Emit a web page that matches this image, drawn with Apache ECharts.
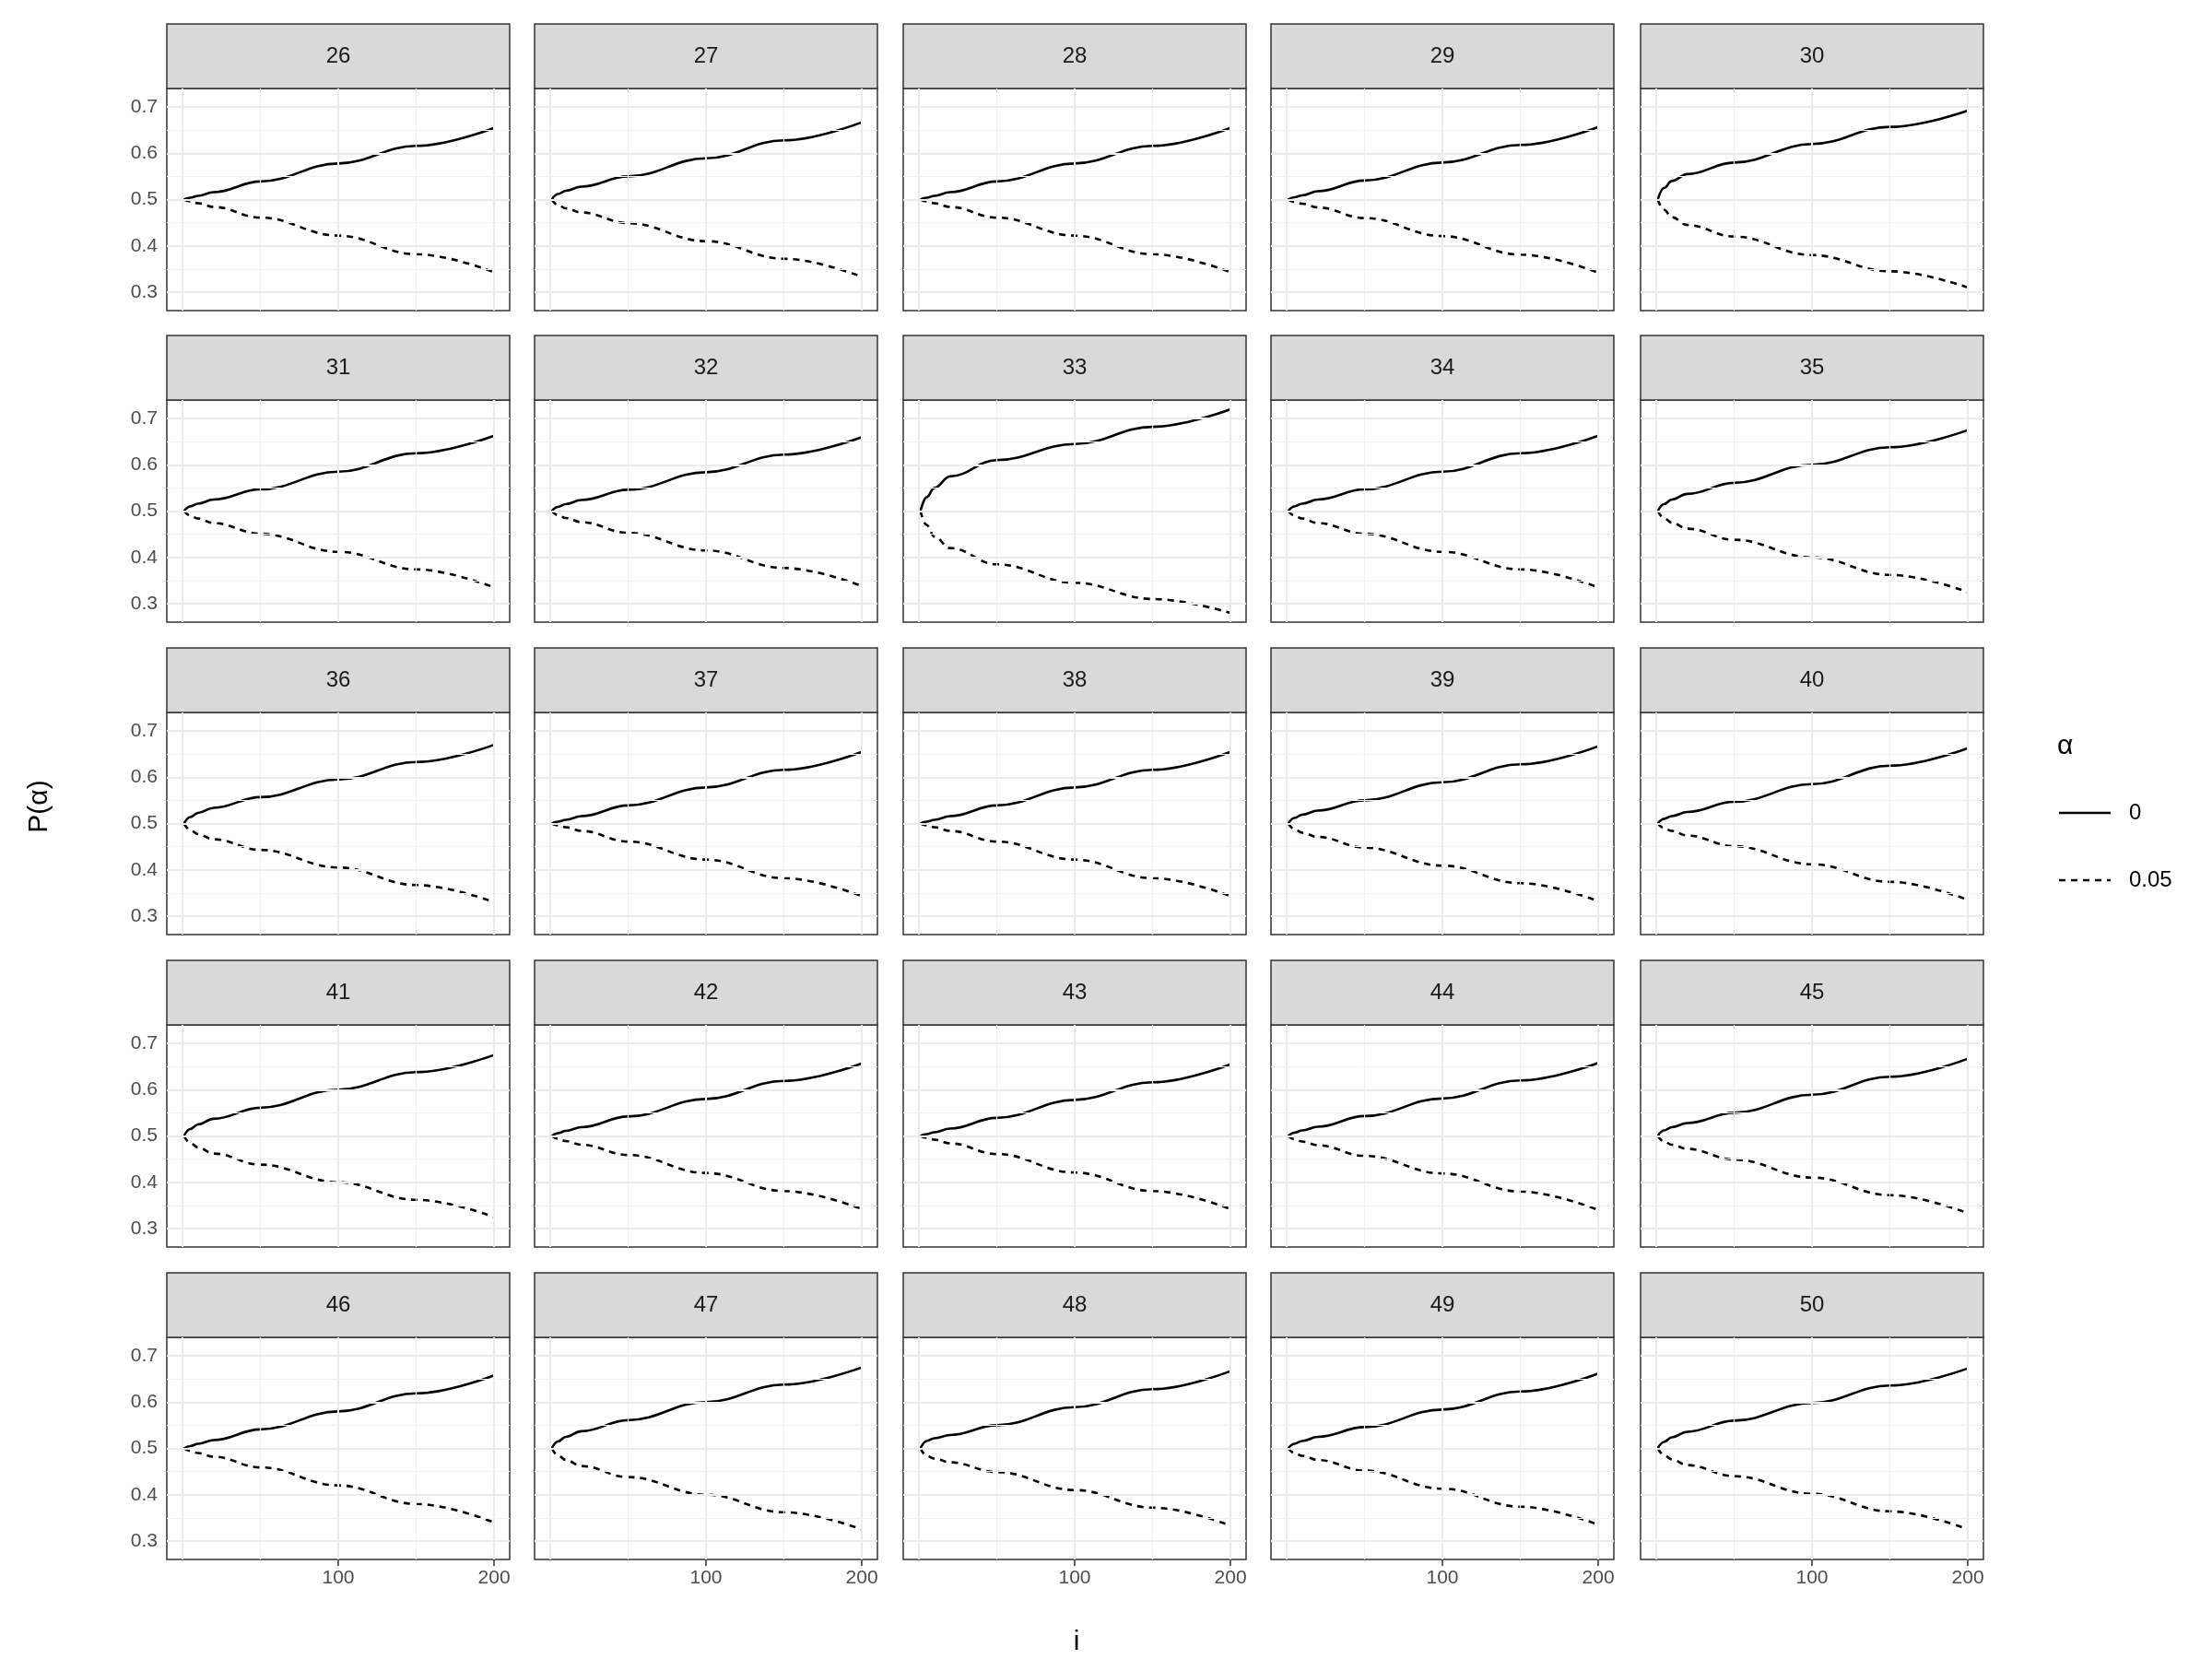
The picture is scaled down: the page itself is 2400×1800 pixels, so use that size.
<!DOCTYPE html>
<html>
<head>
<meta charset="utf-8">
<script src="https://cdn.jsdelivr.net/npm/echarts@6/dist/echarts.min.js"></script>
<style>html,body{margin:0;background:#fff}#c{width:2400px;height:1800px}</style>
</head>
<body>
<div id="c"></div>
<script>
// 面板编号
const panels = [26,27,28,29,30,31,32,33,34,35,36,37,38,39,40,41,42,43,44,45,46,47,48,49,50]
// 采样点 i
const iValues = [1, 5, 10, 20, 50, 100, 150, 200]
const xTicks = [100, 200]
const yTicks = [0.3, 0.4, 0.5, 0.6, 0.7]
// alpha = 0 (实线)
const solidValues = [
  [0.5,0.504,0.508,0.516,0.539,0.578,0.616,0.655],
  [0.5,0.512,0.519,0.528,0.550,0.589,0.628,0.667],
  [0.5,0.504,0.508,0.516,0.539,0.578,0.616,0.655],
  [0.5,0.505,0.509,0.518,0.541,0.580,0.618,0.657],
  [0.5,0.525,0.540,0.555,0.580,0.620,0.657,0.692],
  [0.5,0.510,0.516,0.525,0.547,0.585,0.625,0.663],
  [0.5,0.509,0.515,0.524,0.546,0.584,0.622,0.660],
  [0.5,0.530,0.550,0.575,0.610,0.645,0.682,0.720],
  [0.5,0.510,0.516,0.525,0.547,0.585,0.625,0.663],
  [0.5,0.515,0.525,0.537,0.561,0.600,0.638,0.675],
  [0.5,0.514,0.523,0.534,0.557,0.595,0.633,0.670],
  [0.5,0.504,0.508,0.516,0.539,0.578,0.616,0.655],
  [0.5,0.504,0.508,0.516,0.539,0.578,0.616,0.655],
  [0.5,0.512,0.519,0.528,0.550,0.589,0.628,0.667],
  [0.5,0.510,0.516,0.525,0.547,0.585,0.625,0.663],
  [0.5,0.515,0.525,0.537,0.561,0.600,0.638,0.675],
  [0.5,0.506,0.511,0.519,0.542,0.580,0.619,0.657],
  [0.5,0.504,0.508,0.516,0.539,0.578,0.616,0.655],
  [0.5,0.507,0.512,0.520,0.543,0.581,0.620,0.658],
  [0.5,0.512,0.519,0.528,0.550,0.589,0.628,0.667],
  [0.5,0.505,0.510,0.518,0.541,0.580,0.619,0.658],
  [0.5,0.515,0.525,0.537,0.561,0.600,0.638,0.675],
  [0.5,0.516,0.522,0.529,0.550,0.589,0.628,0.667],
  [0.5,0.510,0.516,0.525,0.546,0.584,0.623,0.662],
  [0.5,0.514,0.524,0.536,0.560,0.598,0.636,0.673]
]
// alpha = 0.05 (虚线)
const dashedValues = [
  [0.5,0.496,0.492,0.484,0.461,0.422,0.382,0.343],
  [0.5,0.488,0.481,0.472,0.449,0.410,0.372,0.333],
  [0.5,0.496,0.492,0.484,0.461,0.422,0.382,0.343],
  [0.5,0.495,0.491,0.483,0.460,0.421,0.381,0.342],
  [0.5,0.478,0.462,0.445,0.420,0.380,0.345,0.310],
  [0.5,0.490,0.484,0.474,0.451,0.412,0.374,0.335],
  [0.5,0.491,0.485,0.476,0.453,0.415,0.377,0.338],
  [0.5,0.470,0.445,0.420,0.385,0.345,0.310,0.280],
  [0.5,0.490,0.484,0.474,0.451,0.412,0.374,0.335],
  [0.5,0.485,0.475,0.462,0.438,0.400,0.362,0.325],
  [0.5,0.486,0.477,0.466,0.443,0.405,0.367,0.330],
  [0.5,0.496,0.492,0.484,0.461,0.422,0.382,0.343],
  [0.5,0.496,0.492,0.484,0.461,0.422,0.382,0.343],
  [0.5,0.488,0.480,0.471,0.448,0.409,0.371,0.332],
  [0.5,0.490,0.484,0.474,0.451,0.412,0.374,0.335],
  [0.5,0.485,0.475,0.462,0.438,0.400,0.362,0.325],
  [0.5,0.494,0.489,0.481,0.459,0.420,0.381,0.342],
  [0.5,0.496,0.492,0.484,0.461,0.421,0.381,0.342],
  [0.5,0.493,0.488,0.480,0.457,0.419,0.380,0.340],
  [0.5,0.488,0.481,0.472,0.449,0.410,0.372,0.333],
  [0.5,0.495,0.490,0.482,0.459,0.420,0.380,0.340],
  [0.5,0.485,0.475,0.462,0.438,0.400,0.362,0.325],
  [0.5,0.484,0.478,0.470,0.449,0.410,0.372,0.333],
  [0.5,0.490,0.484,0.475,0.452,0.413,0.374,0.335],
  [0.5,0.486,0.476,0.464,0.440,0.402,0.364,0.325]
]

const chart = echarts.init(document.getElementById('c'))
const colLeft = [181, 580, 980, 1379, 1780]
const rowTop = [26, 364, 703, 1042, 1381]
const panelW = 372, stripH = 70, plotH = 241
const grids = [], xAxes = [], yAxes = [], series = [], graphics = []
const gridLine = (w, c) => ({ lineStyle: { color: c, width: w, type: 'solid' }, label: { show: false } })

panels.forEach((p, k) => {
  const r = Math.floor(k / 5), c = k % 5
  const left = colLeft[c], top = rowTop[r]
  grids.push({ left, top: top + stripH, width: panelW, height: plotH, show: true,
    borderColor: '#333', borderWidth: 1.5, backgroundColor: 'transparent' })
  const axisLabel = { color: '#4d4d4d', fontSize: 21, fontFamily: 'Liberation Sans' }
  xAxes.push({ gridIndex: k, type: 'value', min: -10, max: 210,
    splitLine: { show: false }, axisLine: { show: false },
    axisTick: { show: r === 4, customValues: xTicks, length: 7, lineStyle: { color: '#333', width: 1.5 } },
    axisLabel: { show: r === 4, customValues: xTicks, margin: 10, ...axisLabel } })
  yAxes.push({ gridIndex: k, type: 'value', min: 0.26, max: 0.74,
    splitLine: { show: false }, axisLine: { show: false },
    axisTick: { show: c === 0, customValues: yTicks, length: 7, lineStyle: { color: '#333', width: 1.5 } },
    axisLabel: { show: c === 0, customValues: yTicks, margin: 10, formatter: v => v.toFixed(1), ...axisLabel } })
  const major = { color: '#ebebeb', width: 2 }, minor = { color: '#f2f2f2', width: 1.2 }
  const ml = []
  ;[0, 100, 200].forEach(v => ml.push({ xAxis: v, lineStyle: major }))
  ;[50, 150].forEach(v => ml.push({ xAxis: v, lineStyle: minor }))
  yTicks.forEach(v => ml.push({ yAxis: v, lineStyle: major }))
  ;[0.35, 0.45, 0.55, 0.65].forEach(v => ml.push({ yAxis: v, lineStyle: minor }))
  series.push({ type: 'line', xAxisIndex: k, yAxisIndex: k, data: [], z: 1,
    markLine: { silent: true, symbol: 'none', animation: false, label: { show: false },
      data: ml.map(d => ({ ...d, lineStyle: { ...d.lineStyle, type: 'solid' } })) } })
  series.push({ type: 'line', xAxisIndex: k, yAxisIndex: k, z: 3, showSymbol: false, smooth: 0.4, smoothMonotone: 'x',
    data: iValues.map((x, j) => [x, solidValues[k][j]]), lineStyle: { color: '#000', width: 2.6 } })
  series.push({ type: 'line', xAxisIndex: k, yAxisIndex: k, z: 3, showSymbol: false, smooth: 0.4, smoothMonotone: 'x',
    data: iValues.map((x, j) => [x, dashedValues[k][j]]), lineStyle: { color: '#000', width: 2.6, type: [7, 6] } })
  graphics.push({ type: 'rect', shape: { x: left, y: top, width: panelW, height: stripH },
    style: { fill: '#d9d9d9', stroke: '#333', lineWidth: 1.5 } })
  graphics.push({ type: 'text', x: left + panelW / 2, y: top + stripH / 2,
    style: { text: String(p), fill: '#1a1a1a', fontSize: 24, fontFamily: 'Liberation Sans', align: 'center', verticalAlign: 'middle' } })
})

// 轴标题与图例
graphics.push({ type: 'text', x: 43, y: 875, rotation: Math.PI / 2,
  style: { text: 'P(α)', fill: '#000', fontSize: 30, fontFamily: 'Liberation Sans', align: 'center', verticalAlign: 'middle' } })
graphics.push({ type: 'text', x: 1168, y: 1782,
  style: { text: 'i', fill: '#000', fontSize: 30, fontFamily: 'Liberation Sans', align: 'center', verticalAlign: 'middle' } })
graphics.push({ type: 'text', x: 2232, y: 810,
  style: { text: 'α', fill: '#000', fontSize: 30, fontFamily: 'Liberation Sans', verticalAlign: 'middle' } })
graphics.push({ type: 'line', shape: { x1: 2234, y1: 882, x2: 2290, y2: 882 }, style: { stroke: '#000', lineWidth: 2.6 } })
graphics.push({ type: 'line', shape: { x1: 2234, y1: 955, x2: 2290, y2: 955 }, style: { stroke: '#000', lineWidth: 2.6, lineDash: [7, 6] } })
graphics.push({ type: 'text', x: 2310, y: 882, style: { text: '0', fill: '#000', fontSize: 24, fontFamily: 'Liberation Sans', verticalAlign: 'middle' } })
graphics.push({ type: 'text', x: 2310, y: 955, style: { text: '0.05', fill: '#000', fontSize: 24, fontFamily: 'Liberation Sans', verticalAlign: 'middle' } })

chart.setOption({ animation: false, backgroundColor: '#fff', grid: grids, xAxis: xAxes, yAxis: yAxes, series, graphic: graphics })
</script>
</body>
</html>
